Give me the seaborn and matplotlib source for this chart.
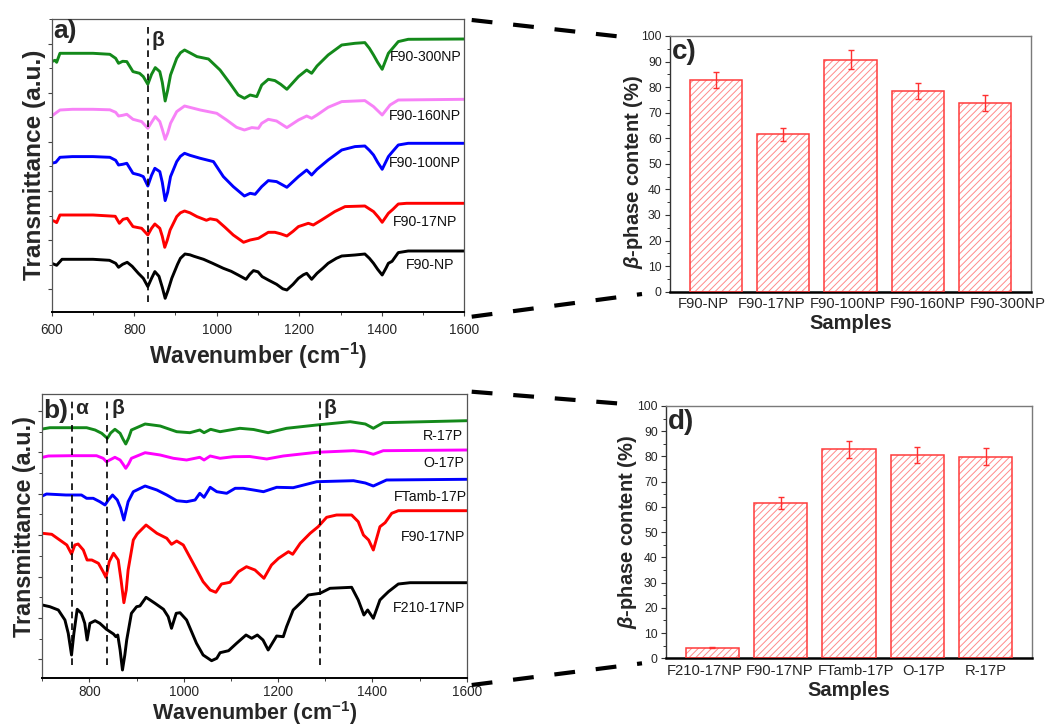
import numpy as np
import pandas as pd
import matplotlib
matplotlib.use("Agg")
import matplotlib.pyplot as plt
from matplotlib.lines import Line2D
from matplotlib.patches import Rectangle
from matplotlib.ticker import MultipleLocator, FixedLocator, NullFormatter
from matplotlib.transforms import ScaledTranslation
import seaborn as sns

# ---------------------------------------------------------------- data
# (a) FTIR spectra of F90 films with nanoparticles of different size
wn_a_np = [600, 612, 625, 650, 700, 740, 755, 762, 772, 783, 795, 810, 822, 833, 842,
           850, 860, 868, 875, 882, 891, 905, 912, 923, 935, 945, 968, 990, 1016, 1035, 1052, 1071,
           1080, 1089, 1100, 1110, 1125, 1145, 1160, 1170, 1185, 1198, 1210, 1218, 1230, 1243, 1257,
           1270, 1290, 1303, 1335, 1359, 1370, 1380, 1390, 1401, 1410, 1416, 1425, 1440, 1464, 1600]
tr_a_np = [49, 47, 53, 53, 53, 52, 49, 45, 48, 50, 46, 39, 34, 25.7, 34,
           40.7, 36, 25, 14, 22, 34, 48, 54, 58.3, 57.5, 56, 53, 49, 44, 41, 37.3, 33,
           38, 41.7, 40.5, 35.7, 32.3, 28, 23.5, 22.3, 28, 34, 37.5, 39, 33, 39, 44,
           49, 54, 56.3, 57.3, 58.3, 54, 49, 43, 37.3, 44, 49, 51, 59.7, 61.3, 61.3]

wn_a_17 = [600, 607, 612, 620, 650, 700, 754, 764, 773, 783, 797, 818, 833, 842, 850,
           862, 868, 874, 880, 887, 903, 912, 922, 935, 952, 975, 984, 1000, 1020, 1040, 1065, 1081,
           1101, 1125, 1141, 1155, 1170, 1185, 1198, 1222, 1234, 1254, 1286, 1311, 1359, 1380, 1392,
           1401, 1416, 1427, 1440, 1460, 1600]
tr_a_17 = [92, 91, 89.7, 97.3, 97.3, 97.3, 96, 89, 93, 94, 85.7, 84, 77.3, 84, 88.3,
           84, 76, 65, 72, 82.3, 95.7, 99.5, 101.3, 99.5, 95.7, 92, 93.5, 92.3, 85, 77.3, 70, 72.3,
           74, 80, 80, 78.5, 76.3, 81, 85.7, 89, 87.3, 92.3, 100.7, 105.7, 106.3, 100.7, 95,
           90, 99, 103, 108.3, 109, 109]

wn_a_100 = [600, 610, 620, 650, 700, 741, 755, 762, 772, 782, 797, 813, 822, 833, 842,
            850, 862, 868, 875, 881, 888, 903, 912, 922, 935, 960, 992, 1016, 1040, 1067, 1081, 1093,
            1109, 1125, 1145, 1170, 1198, 1218, 1230, 1243, 1270, 1303, 1335, 1359, 1370, 1380, 1390,
            1401, 1416, 1424, 1440, 1464, 1600]
tr_a_100 = [149, 150, 155, 155.7, 155.7, 155, 152, 147.3, 148, 149, 139, 137.3, 135.7, 126.3, 137,
            144, 140.7, 130, 111.7, 120, 135.7, 150.7, 156, 159, 157, 154, 150.7, 135.7, 125.7, 116.3, 119, 118,
            125.7, 131.7, 130.7, 125, 135.7, 142.3, 137.3, 143, 152.3, 162.3, 165.7, 166.3, 162, 157.3, 150,
            143, 155.7, 159.7, 167.3, 169, 169]

wn_a_160 = [600, 620, 650, 700, 741, 755, 762, 772, 782, 797, 818, 833, 842, 851, 862,
            868, 875, 881, 888, 903, 922, 960, 1000, 1024, 1048, 1067, 1085, 1101, 1109, 1125,
            1145, 1170, 1198, 1218, 1230, 1243, 1270, 1303, 1359, 1380, 1401, 1420, 1440, 1600]
tr_a_160 = [196.3, 202.3, 203, 203, 202.5, 200, 196.3, 197, 198, 193, 190.7, 184, 190, 195.7, 190.7,
            183, 173, 179, 189, 200.7, 206.3, 202.3, 199, 192.3, 185, 182.3, 184.7, 184, 189, 193,
            191.3, 184.7, 192.3, 196.3, 194, 197.3, 205, 210.7, 211.7, 205.7, 197.3, 207.3, 212.3, 213]

wn_a_300 = [600, 608, 612, 620, 650, 700, 741, 755, 762, 772, 782, 797, 813, 822, 833,
            842, 851, 862, 868, 875, 881, 888, 903, 912, 922, 935, 952, 980, 1008, 1032, 1052, 1067,
            1081, 1097, 1109, 1125, 1141, 1155, 1170, 1198, 1218, 1230, 1243, 1270, 1303, 1335, 1359,
            1370, 1380, 1390, 1401, 1416, 1440, 1464, 1600]
tr_a_300 = [250.7, 252, 250, 259, 259, 259, 258, 254, 249, 251, 250.7, 240.7, 239, 235.7, 228,
            238, 244.7, 240.7, 230, 211.3, 222, 237.3, 254, 259.5, 262.3, 259.5, 255.7, 253.3, 242.3, 229, 217.3, 214,
            217.3, 215.7, 227.3, 233, 231.7, 228, 223, 235.7, 242.3, 239, 246.3, 257.3, 267.3, 269, 269.7,
            264, 257.3, 250, 243, 259, 270.7, 273, 273.3]

# (b) FTIR spectra of films made by different routes
wn_b_f210 = [700, 716, 734, 748, 755, 762, 767, 774, 783, 790, 795, 801, 812, 822, 836,
             851, 856, 860, 865, 870, 875, 879, 889, 900, 907, 920, 939, 957, 967, 974,
             984, 992, 1006, 1027, 1041, 1059, 1070, 1077, 1095, 1112, 1132, 1144, 1156, 1168, 1179,
             1197, 1211, 1218, 1232, 1254, 1264, 1289, 1310, 1356, 1370, 1382, 1390, 1402, 1416, 1423,
             1434, 1455, 1480, 1600]
tr_b_f210 = [75, 73.3, 70, 60, 46.7, 25, 46.7, 70.7, 66.7, 56.7, 40, 56.7, 59.3, 56.7, 50.7,
             46, 43.3, 45, 30, 10, 25, 40, 66.7, 73.3, 74, 82.7, 76.7, 70.7, 63.3, 51.7,
             66.7, 67.3, 60, 36.7, 25, 19.3, 21.7, 27.3, 29.3, 36.7, 45, 41.7, 45, 40, 30,
             44, 43.3, 53.3, 70, 80, 85, 86.7, 91.7, 92.7, 80, 65, 70, 61.7, 80, 83.3,
             88.3, 96, 97.3, 97.3]

wn_b_f90 = [700, 720, 737, 752, 762, 769, 776, 787, 795, 805, 819, 829, 835, 842, 851,
            861, 867, 873, 878, 882, 893, 901, 920, 943, 964, 974, 985, 999, 1020, 1041,
            1056, 1068, 1080, 1098, 1116, 1133, 1151, 1170, 1186, 1201, 1222, 1231, 1247, 1268, 1285,
            1303, 1324, 1356, 1370, 1381, 1392, 1402, 1416, 1427, 1441, 1455, 1600]
tr_b_f90 = [146.7, 145.7, 140, 135, 126, 135, 136, 130, 120, 120, 116.7, 108.3, 102.7, 118.3, 126.7,
            120, 100, 77.3, 90, 110, 140, 146, 155, 146.7, 141.7, 135.7, 139, 135, 116.7, 98.3,
            90, 87.7, 96, 97.7, 108.3, 113.3, 110, 101.7, 115, 121.7, 128.3, 125.7, 136.7, 146.7, 153.3,
            162.7, 165, 165, 158.3, 145, 140, 130, 153.3, 157.3, 166.7, 169.3, 169.3]

wn_b_ftamb = [700, 709, 750, 783, 794, 808, 822, 833, 840, 849, 859, 866, 873, 882, 893,
              918, 943, 964, 985, 1006, 1024, 1034, 1043, 1056, 1070, 1091, 1109, 1126, 1148, 1169,
              1197, 1232, 1282, 1360, 1385, 1402, 1430, 1600]
tr_b_ftamb = [184, 186, 185, 185, 181.7, 181.7, 178.3, 175, 180, 185, 180, 172, 160, 178.3, 188.3,
              194, 190, 185, 179.3, 178.3, 180, 186.7, 182.7, 192.7, 188.3, 186.7, 191.7, 191.7, 190, 188.3,
              192.7, 192.3, 198.3, 199.3, 197, 194, 200, 200.7]

wn_b_o = [700, 713, 760, 815, 829, 836, 845, 854, 865, 871, 877, 883, 889, 918, 950,
          978, 1006, 1034, 1043, 1056, 1077, 1105, 1140, 1176, 1211, 1282, 1360, 1385, 1402, 1423, 1600]
tr_b_o = [222.7, 224, 224.3, 224.3, 221.7, 218.3, 220.5, 222.7, 220, 216, 211.7, 216, 221.7, 227.3, 225,
          221.7, 220, 222.7, 220, 224, 221.7, 223.3, 223.5, 221, 224, 227.7, 229.3, 228, 225.7, 229.3, 230]

wn_b_r = [700, 716, 760, 794, 812, 826, 838, 845, 854, 865, 871, 877, 883, 889, 918,
          950, 985, 1013, 1034, 1043, 1057, 1077, 1119, 1148, 1179, 1218, 1282, 1353, 1385, 1402,
          1423, 1600]
tr_b_r = [251, 252.3, 252.3, 252.3, 250, 246.7, 241.7, 247, 250.7, 246.7, 241, 236, 242, 250, 256,
          254, 248.3, 247.3, 250, 247.3, 250.7, 248.3, 251.7, 250.5, 247.3, 251.7, 255, 258.3, 256, 251.7,
          257.3, 259.3]

# (c) beta-phase content, nanoparticle size series
samples_c = ["F90-NP", "F90-17NP", "F90-100NP", "F90-160NP", "F90-300NP"]
beta_c = [82.8, 61.6, 90.8, 78.5, 73.8]
err_c = [3.3, 2.5, 3.7, 3.1, 3.0]

# (d) beta-phase content, processing series
samples_d = ["F210-17NP", "F90-17NP", "FTamb-17P", "O-17P", "R-17P"]
beta_d = [4.2, 61.5, 82.9, 80.6, 79.9]
err_d = [0.2, 2.5, 3.4, 3.3, 3.3]

# ---------------------------------------------------------------- style
sns.set_style("ticks")
plt.rcParams["font.family"] = ["Liberation Sans", "DejaVu Sans"]
plt.rcParams["mathtext.fontset"] = "custom"
plt.rcParams["mathtext.rm"] = "Liberation Sans:bold"
plt.rcParams["mathtext.bf"] = "Liberation Sans:bold"
plt.rcParams["mathtext.it"] = "Liberation Sans:italic:bold"
plt.rcParams["hatch.linewidth"] = 0.7

W, H = 1045, 726
fig = plt.figure(figsize=(W / 100, H / 100), dpi=100)


def box(left, top, right, bottom):
    return [left / W, 1 - bottom / H, (right - left) / W, (bottom - top) / H]


ax_a = fig.add_axes(box(51.7, 19.3, 464.3, 312.3))
ax_b = fig.add_axes(box(42.3, 394.3, 466.7, 678.0))
ax_c = fig.add_axes(box(670.0, 36.0, 1031.0, 291.7))
ax_d = fig.add_axes(box(666.0, 406.0, 1032.3, 658.3))


def long_frame(series):
    frames = []
    for name, x, y in series:
        frames.append(pd.DataFrame({"wavenumber": x, "transmittance": y, "sample": name}))
    return pd.concat(frames, ignore_index=True)


def draw_spectra(ax, series, palette):
    df = long_frame(series)
    sns.lineplot(data=df, x="wavenumber", y="transmittance", hue="sample",
                 palette=palette, estimator=None, sort=False, legend=False,
                 linewidth=2.1, ax=ax)
    for line in ax.lines:
        line.set_solid_joinstyle("round")


def style_spectra(ax, xlim, ylim, y0, ystep, ylab_size, ylab_xy,
                  xlab_size, xlab_pad, tick_len, tick_pad):
    ax.set_xlim(*xlim)
    ax.set_ylim(*ylim)
    ax.xaxis.set_major_locator(MultipleLocator(200))
    ax.xaxis.set_minor_locator(MultipleLocator(100))
    majors = np.arange(y0, ylim[1], ystep)
    minors = np.arange(y0 + ystep / 2, ylim[1], ystep)
    ax.yaxis.set_major_locator(FixedLocator(majors))
    ax.yaxis.set_minor_locator(FixedLocator(minors))
    ax.yaxis.set_major_formatter(NullFormatter())
    ax.tick_params(which="major", direction="out", length=tick_len, width=0.8,
                   labelsize=9.8, pad=tick_pad, color="#444444")
    ax.tick_params(which="minor", direction="out", length=2, width=0.7, color="#444444")
    for side in ("left", "top", "right"):
        ax.spines[side].set_color("#555555")
        ax.spines[side].set_linewidth(0.9)
    ax.spines["bottom"].set_color("black")
    ax.spines["bottom"].set_linewidth(1.4)
    ax.set_xlabel("Wavenumber (cm$^{-1}$)", fontsize=xlab_size, fontweight="bold", labelpad=xlab_pad)
    ax.set_ylabel("Transmittance (a.u.)", fontsize=ylab_size, fontweight="bold")
    ax.yaxis.set_label_coords(*ylab_xy)


# ---------------------------------------------------------------- panel a
series_a = [("F90-NP", wn_a_np, tr_a_np),
            ("F90-17NP", wn_a_17, tr_a_17),
            ("F90-100NP", wn_a_100, tr_a_100),
            ("F90-160NP", wn_a_160, tr_a_160),
            ("F90-300NP", wn_a_300, tr_a_300)]
pal_a = {"F90-NP": "black", "F90-17NP": "#ff0000", "F90-100NP": "#0000ff",
         "F90-160NP": "#f782f7", "F90-300NP": "#13891a"}
draw_spectra(ax_a, series_a, pal_a)
style_spectra(ax_a, (600, 1600), (0, 293), 23.3, 49, 17.6, (-0.015, 0.503),
              16.5, 3, 3.2, 4.5)
ax_a.plot([833, 833], [10, 286], ls=(0, (4, 3)), color="black", lw=1.2)
ax_a.text(857, 272, "β", fontsize=15, fontweight="bold", ha="center", va="center")
ax_a.text(0.004, 1.0, "a)", transform=ax_a.transAxes, fontsize=19, fontweight="bold",
          ha="left", va="top")
for name, x, y in [("F90-300NP", 1594, 255), ("F90-160NP", 1592, 196), ("F90-100NP", 1592, 149),
                   ("F90-17NP", 1582, 90), ("F90-NP", 1577, 47)]:
    ax_a.text(x, y, name, fontsize=10.2, ha="right", va="center", color="#111111")

# ---------------------------------------------------------------- panel b
series_b = [("F210-17NP", wn_b_f210, tr_b_f210),
            ("F90-17NP", wn_b_f90, tr_b_f90),
            ("FTamb-17P", wn_b_ftamb, tr_b_ftamb),
            ("O-17P", wn_b_o, tr_b_o),
            ("R-17P", wn_b_r, tr_b_r)]
pal_b = {"F210-17NP": "black", "F90-17NP": "#ff0000", "FTamb-17P": "#0000ff",
         "O-17P": "#ff00ff", "R-17P": "#13891a"}
draw_spectra(ax_b, series_b, pal_b)
style_spectra(ax_b, (700, 1600), (2, 285.7), 20.7, 41.4, 16.8, (-0.016, 0.535),
              15.5, 0, 2.6, 2.2)
for xv in (762, 838, 1289):
    ax_b.plot([xv, xv], [15, 283], ls=(0, (4, 3)), color="black", lw=1.2)
ax_b.text(784, 271, "α", fontsize=15, fontweight="bold", ha="center", va="center")
ax_b.text(861, 271, "β", fontsize=15, fontweight="bold", ha="center", va="center")
ax_b.text(1310, 271, "β", fontsize=15, fontweight="bold", ha="center", va="center")
ax_b.text(0.002, 0.985, "b)", transform=ax_b.transAxes, fontsize=19, fontweight="bold",
          ha="left", va="top")
for name, x, y in [("R-17P", 1592, 244), ("O-17P", 1594, 217), ("FTamb-17P", 1600, 183),
                   ("F90-17NP", 1596, 143), ("F210-17NP", 1596, 72)]:
    ax_b.text(x, y, name, fontsize=10.2, ha="right", va="center", color="#111111")


# ---------------------------------------------------------------- bars
def draw_bars(ax, samples, values, errors, tag, label_shift, ylab_xy):
    sns.barplot(x=samples, y=values, ax=ax, color="white", width=0.78,
                errorbar=None, saturation=1)
    bars = list(ax.patches)
    for p in bars:
        p.set_facecolor("none")
        p.set_hatch("/////")
        p.set_edgecolor("#ff8a8a")
        p.set_linewidth(0)
        ax.add_patch(Rectangle(p.get_xy(), p.get_width(), p.get_height(),
                               fill=False, edgecolor="#ff3b3b", linewidth=1.1, zorder=3))
    xs = [p.get_x() + p.get_width() / 2 for p in bars]
    ax.errorbar(xs, values, yerr=errors, fmt="none", ecolor="#ff3030",
                elinewidth=1, capsize=2.5, capthick=1, zorder=4)
    ax.set_ylim(0, 100)
    ax.set_xlim(-0.68, 4.68)
    ax.yaxis.set_major_locator(MultipleLocator(10))
    ax.yaxis.set_minor_locator(MultipleLocator(5))
    ax.tick_params(axis="y", which="major", direction="out", length=3.5, width=0.8,
                   labelsize=8.8, pad=2.5, color="#333333")
    ax.tick_params(axis="y", which="minor", direction="out", length=2, width=0.7, color="#333333")
    ax.tick_params(axis="x", length=0, labelsize=10.6, pad=4)
    # sample names sit slightly apart from the bar centres
    for lab, dx in zip(ax.get_xticklabels(), label_shift):
        lab.set_transform(lab.get_transform() + ScaledTranslation(dx / 100, 0, fig.dpi_scale_trans))
    ax.spines["left"].set_color("#333333")
    ax.spines["left"].set_linewidth(1.0)
    for side in ("top", "right"):
        ax.spines[side].set_color("#7a7a7a")
        ax.spines[side].set_linewidth(1.0)
    ax.spines["bottom"].set_color("black")
    ax.spines["bottom"].set_linewidth(1.8)
    ax.set_xlabel("Samples", fontsize=14.5, fontweight="bold", labelpad=2)
    ax.set_ylabel(r"$\it{\beta}$-phase content (%)", fontsize=14.5, fontweight="bold")
    ax.yaxis.set_label_coords(*ylab_xy)
    ax.text(0.004, 0.99, tag, transform=ax.transAxes, fontsize=20, fontweight="bold",
            ha="left", va="top")


draw_bars(ax_c, samples_c, beta_c, err_c, "c)", [-12, -12, -3, 10, 23], (-0.0706, 0.47))
draw_bars(ax_d, samples_d, beta_d, err_d, "d)", [-8, -1, 7, 6, 0], (-0.075, 0.499))

# ---------------------------------------------------------------- zoom connectors
for (x0, y0, x1, y1) in [(471.7, 20.0, 637.0, 38.5), (471.7, 316.7, 642.0, 294.0),
                         (471.7, 391.7, 637.5, 405.0), (471.7, 685.0, 642.0, 663.3)]:
    fig.add_artist(Line2D([x0 / W, x1 / W], [1 - y0 / H, 1 - y1 / H],
                          transform=fig.transFigure, color="black", lw=3,
                          ls=(0, (5, 5)), solid_capstyle="butt", dash_capstyle="butt"))

fig.savefig("out.png", dpi=100)
